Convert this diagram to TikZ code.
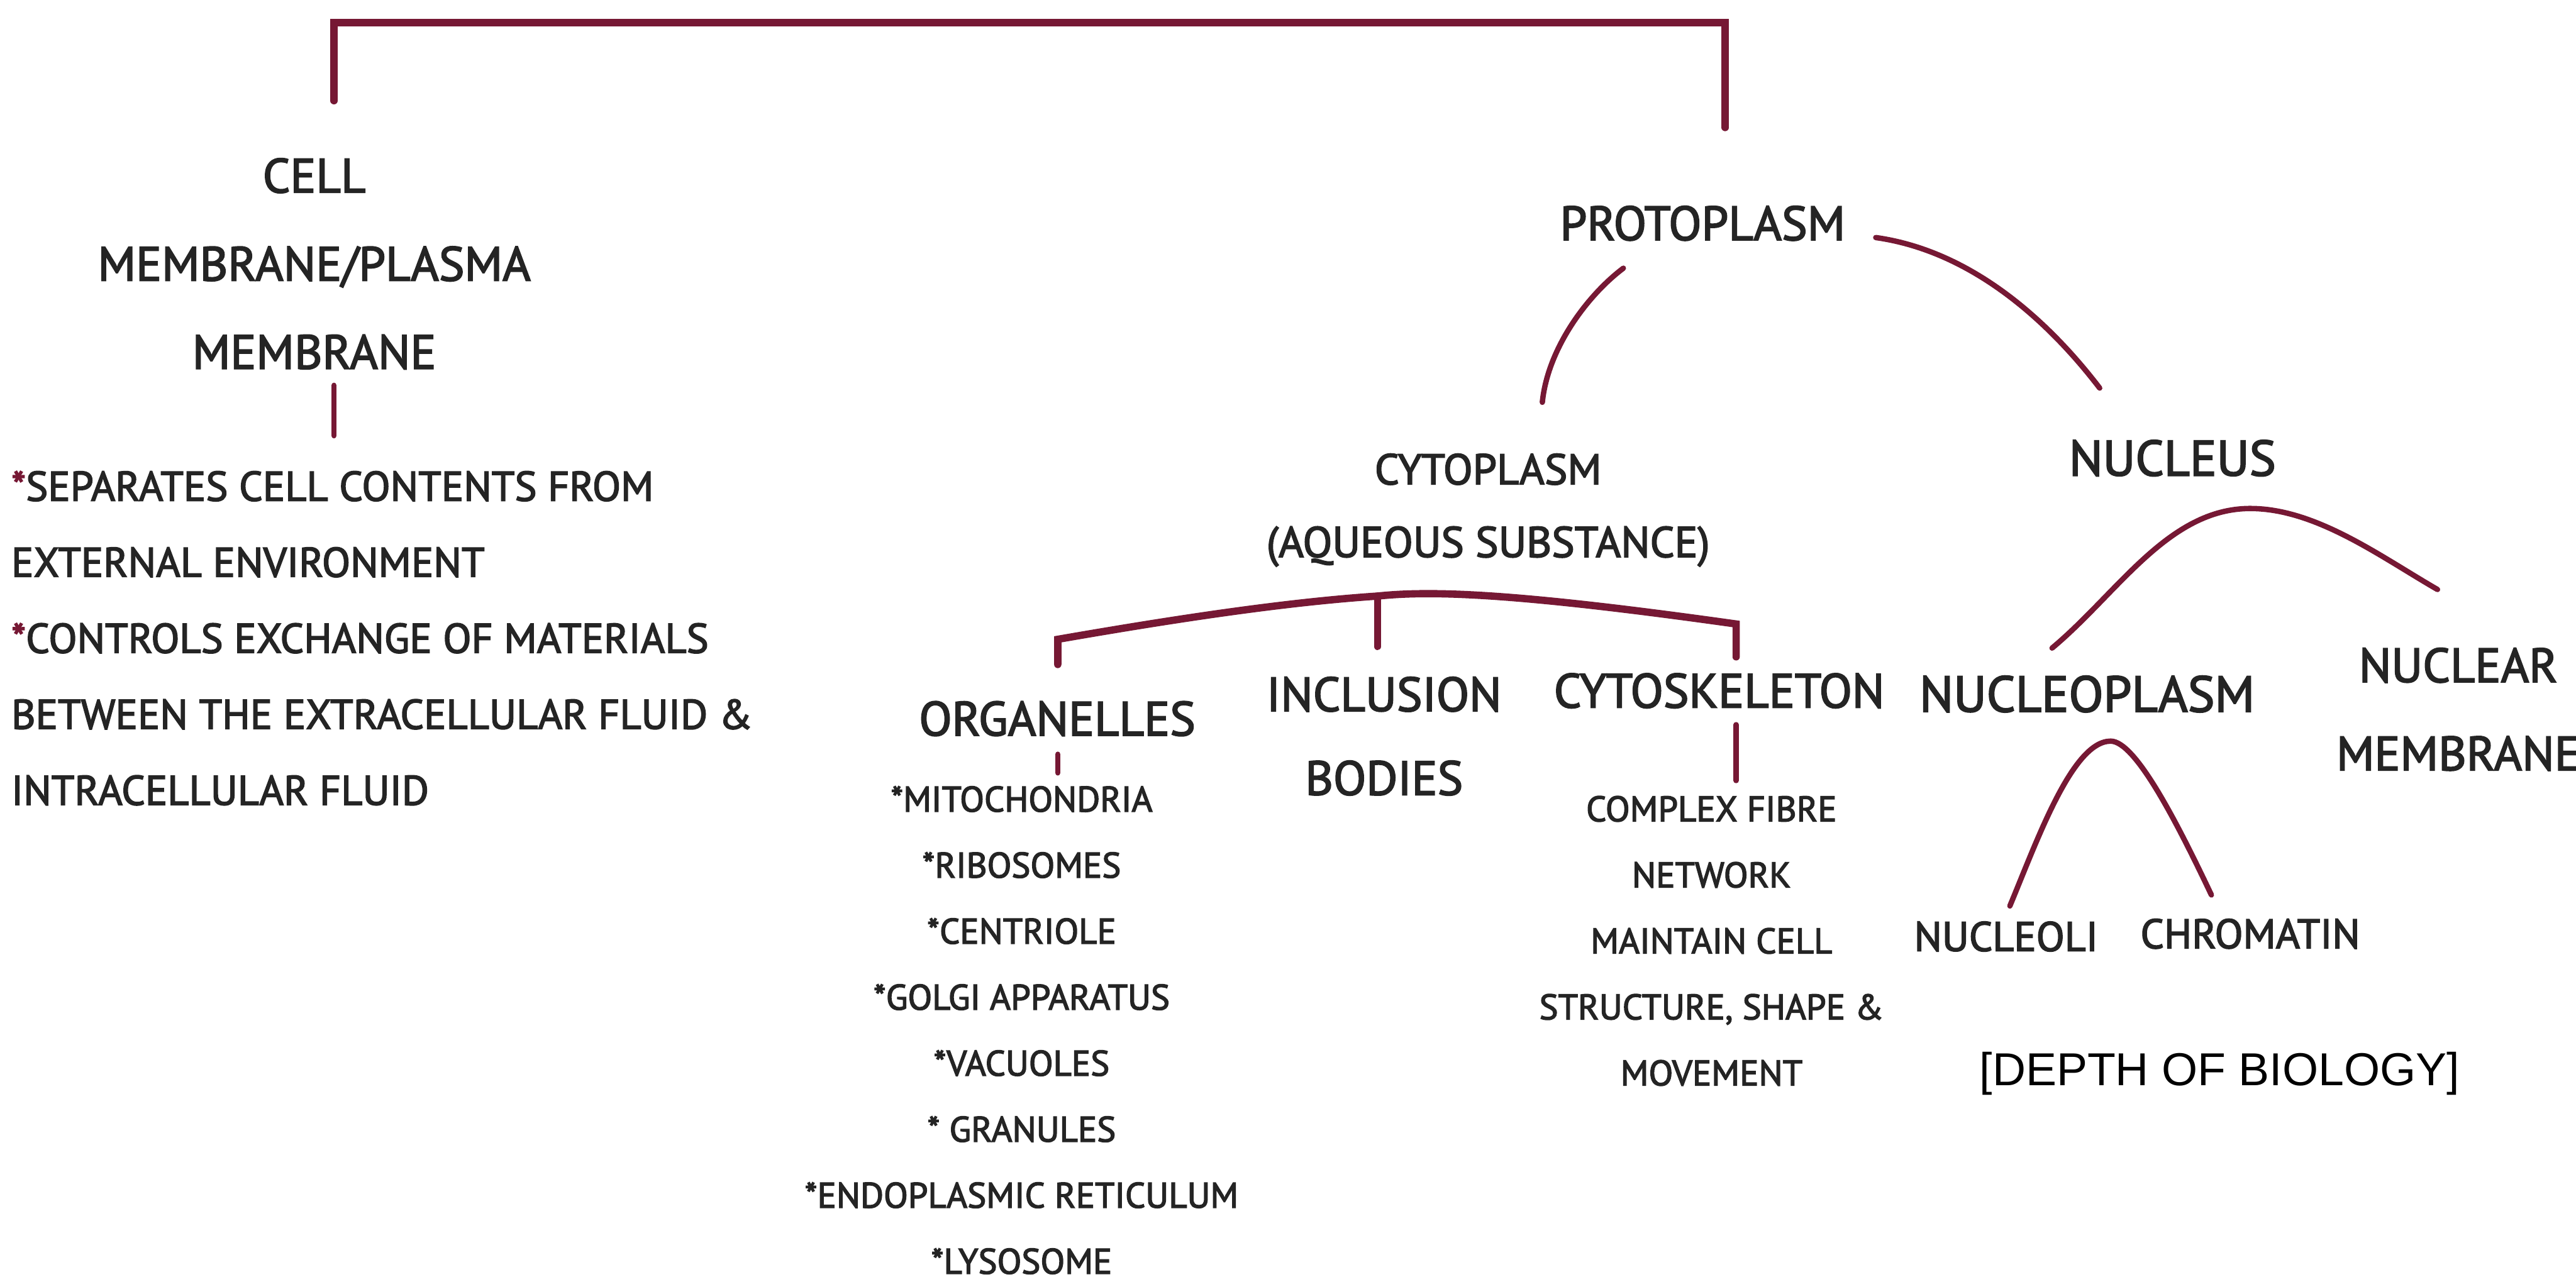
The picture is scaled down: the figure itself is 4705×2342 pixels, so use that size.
\documentclass[tikz,border=0pt]{standalone}
\usepackage{fontspec}
\setmainfont{PT Sans}[FakeBold=2.5]
\newfontfamily\creditfont{Liberation Sans}
\definecolor{linkred}{RGB}{118,24,52}
\definecolor{ink}{RGB}{36,36,36}
\tikzset{
	link/.style={draw=linkred, line width=2.8pt, line cap=round},
	bracket/.style={link, line width=3.8pt},
	head/.style={inner sep=0pt, text=ink, align=center, font=\fontsize{25}{45.8}\selectfont},
	subhead/.style={inner sep=0pt, text=ink, align=center, font=\fontsize{22.4}{37.8}\selectfont},
	bullets/.style={inner sep=0pt, text=ink, align=left, font=\fontsize{21.6}{39.5}\selectfont},
	itemlist/.style={inner sep=0pt, text=ink, align=center, font=\fontsize{18.5}{34.3}\selectfont},
}
\newcommand{\redstar}{\textcolor{linkred}{*}}
\begin{document}
\begin{tikzpicture}[x=0.01cm, y=-0.01cm]
	\fill[white] (0,0) rectangle (4705,2342);
	\useasboundingbox (0,0) rectangle (4705,2342);

	\node[head] (cellmem) at (574,482) {CELL\\MEMBRANE/PLASMA\\MEMBRANE};
	\node[bullets, anchor=west] (cellrole) at (20,1166) {\redstar SEPARATES CELL CONTENTS FROM\\EXTERNAL ENVIRONMENT\\\redstar CONTROLS EXCHANGE OF MATERIALS\\BETWEEN THE EXTRACELLULAR FLUID \&\\INTRACELLULAR FLUID};

	\node[head] (proto) at (3110,408) {PROTOPLASM};
	\node[subhead] (cyto) at (2718,932) {CYTOPLASM\\(AQUEOUS SUBSTANCE)};
	\node[head, font=\fontsize{26}{30}\selectfont] (nucleus) at (3968,837) {NUCLEUS};

	\node[head] (organ) at (1931,1313) {ORGANELLES};
	\node[head, font=\fontsize{25}{43.5}\selectfont] (incl) at (2528,1345) {INCLUSION\\BODIES};
	\node[head] (skel) at (3140,1262) {CYTOSKELETON};
	\node[head, font=\fontsize{26.3}{30}\selectfont] (nplasm) at (3812,1268) {NUCLEOPLASM};
	\node[head] (nmemb) at (4490,1296) {NUCLEAR\\MEMBRANE};

	\node[itemlist] (organlist) at (1866,1882) {*MITOCHONDRIA\\*RIBOSOMES\\*CENTRIOLE\\*GOLGI APPARATUS\\*VACUOLES\\* GRANULES\\*ENDOPLASMIC RETICULUM\\*LYSOSOME};
	\node[itemlist] (skellist) at (3126,1719) {COMPLEX FIBRE\\NETWORK\\MAINTAIN CELL\\STRUCTURE, SHAPE \&\\MOVEMENT};

	\node[head, font=\fontsize{21.5}{25}\selectfont] (nucleoli) at (3664,1711) {NUCLEOLI};
	\node[head, font=\fontsize{21.5}{25}\selectfont] (chromatin) at (4110,1706) {CHROMATIN};

	\node[inner sep=0pt, text=black, font=\creditfont\fontsize{24}{28}\selectfont] (credit) at (4054,1961) {[DEPTH OF BIOLOGY]};

	\coordinate (cellup) at (610,184);
	\coordinate (protoup) at (3151,233);
	\draw[bracket] (cellup) -- (610,41) -| (protoup);

	\coordinate (celldown) at (610,704);
	\coordinate (roleup) at (610,796);
	\draw[link] (celldown) -- (roleup);

	\coordinate (protoL) at (2965,490);
	\coordinate (cytoup) at (2817,735);
	\draw[link] (protoL) .. controls (2901,538) and (2827,635) .. (cytoup);

	\coordinate (protoR) at (3426,434);
	\coordinate (nucleusup) at (3835,709);
	\draw[link] (protoR) .. controls (3604,459) and (3744,590) .. (nucleusup);

	\coordinate (organup) at (1932,1214);
	\coordinate (skelup) at (3171,1200);
	\coordinate (inclup) at (2516,1181);
	\draw[bracket] (organup) -- (1932,1168) .. controls (2150,1130) and (2350,1100) .. (2516,1089)
		.. controls (2620,1078) and (2780,1085) .. (3171,1140) -- (skelup);
	\draw[bracket] (2516,1089) -- (inclup);

	\draw[link] (1932,1378) -- (1932,1412);
	\draw[link] (3171,1324) -- (3171,1426);

	\coordinate (nplasmup) at (3748,1184);
	\coordinate (nmembup) at (4452,1077);
	\draw[link] (nplasmup) .. controls (3868,1084) and (3960,929) .. (4110,929)
		.. controls (4230,929) and (4348,1017) .. (nmembup);

	\coordinate (nucleoliup) at (3671,1655);
	\coordinate (chromatinup) at (4039,1635);
	\draw[link] (nucleoliup) .. controls (3721,1535) and (3785,1354) .. (3855,1354)
		.. controls (3900,1354) and (3975,1500) .. (chromatinup);
\end{tikzpicture}
\end{document}
